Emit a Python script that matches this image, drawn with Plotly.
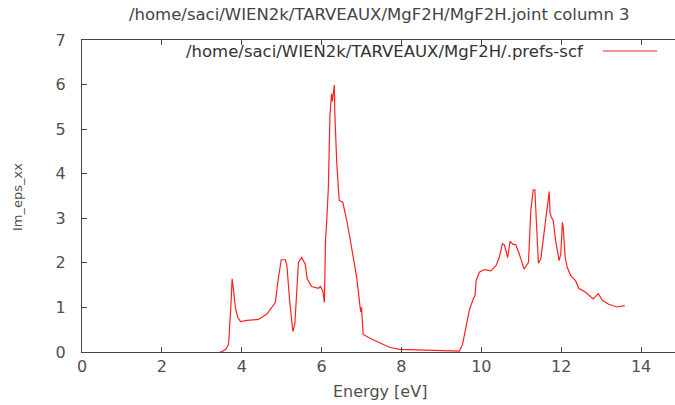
import plotly.graph_objects as go

energy = [3.45, 3.51, 3.60, 3.67, 3.72, 3.76, 3.80, 3.84, 3.90, 3.97, 4.13, 4.42, 4.63,
          4.76, 4.84, 4.92, 4.99, 5.09, 5.13, 5.20, 5.28, 5.33, 5.42, 5.50, 5.59, 5.64,
          5.75, 5.92, 5.97, 6.03, 6.07, 6.10, 6.12, 6.17, 6.21, 6.25, 6.27, 6.32, 6.33,
          6.38, 6.44, 6.53, 6.63, 6.75, 6.88, 6.96, 6.98, 7.00, 7.04, 7.21, 7.50, 7.71,
          7.96, 8.50, 8.95, 9.45, 9.53, 9.62, 9.70, 9.81, 9.84, 9.87, 9.95, 10.07, 10.24,
          10.37, 10.45, 10.53, 10.58, 10.66, 10.72, 10.79, 10.86, 10.95, 11.07, 11.13,
          11.18, 11.24, 11.30, 11.34, 11.38, 11.43, 11.49, 11.57, 11.63, 11.70, 11.72,
          11.75, 11.80, 11.86, 11.95, 11.99, 12.03, 12.05, 12.10, 12.15, 12.24, 12.36,
          12.44, 12.61, 12.80, 12.93, 13.03, 13.19, 13.40, 13.59]
im_eps_xx = [0.0, 0.01, 0.06, 0.17, 0.90, 1.64, 1.35, 1.00, 0.78, 0.68, 0.71, 0.73, 0.85,
             1.01, 1.11, 1.67, 2.07, 2.07, 1.95, 1.15, 0.46, 0.63, 2.01, 2.12, 1.97, 1.64,
             1.47, 1.43, 1.47, 1.37, 1.11, 2.54, 2.80, 3.70, 5.31, 5.80, 5.62, 5.99, 5.39,
             4.23, 3.40, 3.36, 2.95, 2.35, 1.67, 1.04, 0.90, 1.00, 0.40, 0.31, 0.19, 0.10,
             0.06, 0.05, 0.03, 0.02, 0.17, 0.55, 0.94, 1.22, 1.25, 1.60, 1.79, 1.85, 1.82,
             1.94, 2.12, 2.43, 2.40, 2.12, 2.48, 2.42, 2.41, 2.20, 1.86, 1.94,
             2.01, 3.18, 3.64, 3.64, 2.80, 1.99, 2.09, 2.65, 3.06, 3.60, 3.14,
             3.03, 2.95, 2.50, 2.05, 2.20, 2.91, 2.80, 2.12, 1.90, 1.71, 1.60,
             1.43, 1.34, 1.19, 1.31, 1.16, 1.07, 1.01, 1.04]

title_text = "/home/saci/WIEN2k/TARVEAUX/MgF2H/MgF2H.joint column 3"
legend_text = "/home/saci/WIEN2k/TARVEAUX/MgF2H/.prefs-scf"
x_label = "Energy [eV]"
y_label = "Im_eps_xx"
x_ticks = [0, 2, 4, 6, 8, 10, 12, 14]
y_ticks = [0, 1, 2, 3, 4, 5, 6, 7]

FONT = "DejaVu Sans"
AX = "#444444"
TXT = "#505050"
L, R_PX, T, B = 82, 675, 40, 352
PW, PH = R_PX - L, B - T

fig = go.Figure()
fig.add_trace(go.Scatter(x=energy, y=im_eps_xx, mode="lines",
                         line=dict(color="#ff2020", width=1.2),
                         name=legend_text, showlegend=False))

fig.update_layout(
    width=675, height=405,
    margin=dict(l=L, r=675 - R_PX, t=T, b=405 - B),
    paper_bgcolor="white", plot_bgcolor="white",
    font=dict(family=FONT, size=16, color=TXT),
    xaxis=dict(range=[0, 14.85], tickvals=x_ticks, ticks="inside", ticklen=5,
               tickcolor=AX, showline=True, linecolor=AX, linewidth=1,
               mirror="ticks", showgrid=False, zeroline=False,
               tickfont=dict(size=16, color=TXT), ticklabelstandoff=0),
    yaxis=dict(range=[0, 7], tickvals=y_ticks, ticks="inside", ticklen=5,
               tickcolor=AX, showline=True, linecolor=AX, linewidth=1,
               showgrid=False, zeroline=False,
               tickfont=dict(size=16, color=TXT), ticklabelstandoff=12),
)

# axis titles
fig.add_annotation(text=x_label, xref="paper", yref="paper", x=(380 - L) / PW,
                   y=-(391 - B) / PH, xanchor="center", yanchor="middle",
                   showarrow=False, font=dict(size=16, color=TXT))
fig.add_annotation(text=y_label, xref="paper", yref="paper", x=(17 - L) / PW,
                   y=(B - 197) / PH, xanchor="center", yanchor="middle", textangle=-90,
                   showarrow=False, font=dict(size=13, color=TXT))

# title
fig.add_annotation(text=title_text, xref="paper", yref="paper", x=(379 - L) / PW,
                   y=1 + (T - 14) / PH, xanchor="center", yanchor="middle",
                   showarrow=False, font=dict(size=16.5, color="#444444"))
# legend (gnuplot style: text then sample)
fig.add_annotation(text=legend_text, xref="paper", yref="paper", x=(586 - L) / PW,
                   y=1 - (51 - T) / PH, xanchor="right", yanchor="middle",
                   showarrow=False, font=dict(size=16.5, color="#333333"))
fig.add_shape(type="line", xref="paper", yref="paper",
              x0=(603 - L) / PW, x1=(657 - L) / PW,
              y0=1 - (51 - T) / PH, y1=1 - (51 - T) / PH,
              line=dict(color="#ff2020", width=1.2))

fig.write_html("out.html")
